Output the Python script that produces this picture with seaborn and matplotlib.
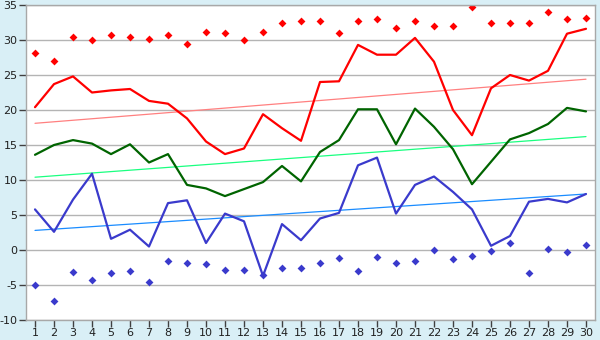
import matplotlib
matplotlib.use('Agg')
import numpy as np
import pandas as pd
import seaborn as sns
import matplotlib.pyplot as plt

###############################################################################
# Data
###############################################################################
DAYS = list(range(1, 31))
RED = [20.4, 23.7, 24.8, 22.5, 22.8, 23.0, 21.3, 20.9, 18.8, 15.5,
       13.7, 14.5, 19.4, 17.4, 15.6, 24.0, 24.1, 29.3, 27.9, 27.9,
       30.3, 26.9, 20.0, 16.4, 23.1, 25.0, 24.2, 25.6, 30.9, 31.6]
GREEN = [13.6, 15.0, 15.7, 15.2, 13.7, 15.1, 12.5, 13.7, 9.3, 8.8,
         7.7, 8.7, 9.7, 12.0, 9.8, 14.0, 15.7, 20.1, 20.1, 15.1,
         20.2, 17.6, 14.4, 9.4, 12.6, 15.8, 16.7, 18.0, 20.3, 19.8]
BLUE = [5.8, 2.6, 7.2, 10.9, 1.6, 2.9, 0.5, 6.7, 7.1, 1.0,
        5.2, 4.1, -3.7, 3.7, 1.4, 4.5, 5.3, 12.1, 13.2, 5.2,
        9.3, 10.5, 8.3, 5.8, 0.6, 2.0, 6.9, 7.3, 6.8, 8.0]
HIGH = [28.1, 27.0, 30.4, 30.0, 30.7, 30.5, 30.2, 30.7, 29.4, 31.1,
        31.0, 30.0, 31.1, 32.4, 32.7, 32.7, 31.0, 32.7, 33.0, 31.7,
        32.7, 32.0, 32.0, 34.7, 32.4, 32.5, 32.4, 34.0, 33.0, 33.1]
LOW = [-5.0, -7.3, -3.2, -4.3, -3.3, -3.0, -4.5, -1.5, -1.9, -2.0,
       -2.8, -2.8, -3.6, -2.6, -2.6, -1.8, -1.2, -3.0, -1.0, -1.9,
       -1.5, 0.0, -1.3, -0.9, -0.2, 1.0, -3.3, 0.1, -0.3, 0.7]
TREND_X = [1, 30]
TREND_RED = [18.1, 24.4]
TREND_GREEN = [10.4, 16.2]
TREND_BLUE = [2.8, 8.0]

df = pd.DataFrame({'day': DAYS, 'red': RED, 'green': GREEN, 'blue': BLUE,
                   'high': HIGH, 'low': LOW})
dfT = pd.DataFrame({'day': TREND_X, 'red': TREND_RED, 'green': TREND_GREEN,
                    'blue': TREND_BLUE})

###############################################################################
# Plot
###############################################################################
sns.set_style('white')
plt.rcParams['font.family'] = ['DejaVu Sans']
plt.rcParams['axes.unicode_minus'] = False
BG = '#d9eff6'
EDGE = '#a8a8a8'
fig = plt.figure(figsize=(6, 3.4), dpi=100, facecolor=BG)
ax = fig.add_axes([26 / 600, 20 / 340, 569 / 600, 315 / 340])
ax.set_facecolor('white')

ax.set_ylim(-10, 35)
ax.set_xlim(0.526, 30.474)
ax.set_yticks(range(-10, 36, 5))
ax.set_xticks(DAYS)
ax.yaxis.grid(True, color='#b4b4b4', linewidth=1.0)
ax.set_axisbelow(True)

# trend lines
sns.lineplot(data=dfT, x='day', y='red', color='#ff8080', linewidth=0.9, ax=ax)
sns.lineplot(data=dfT, x='day', y='green', color='#1aff80', linewidth=0.9, ax=ax)
sns.lineplot(data=dfT, x='day', y='blue', color='#1a8cff', linewidth=0.9, ax=ax)
# main series
sns.lineplot(data=df, x='day', y='red', color='#ff0000', linewidth=1.6, ax=ax)
sns.lineplot(data=df, x='day', y='green', color='#006400', linewidth=1.6, ax=ax)
sns.lineplot(data=df, x='day', y='blue', color='#3a3acc', linewidth=1.6, ax=ax)
# extremes
sns.scatterplot(data=df, x='day', y='high', color='#ff0000', marker='D', s=16,
                linewidth=0, ax=ax)
sns.scatterplot(data=df, x='day', y='low', color='#3a3acc', marker='D', s=16,
                linewidth=0, ax=ax)

for s in ax.spines.values():
    s.set_color(EDGE)
    s.set_linewidth(1.0)
ax.tick_params(axis='both', which='both', direction='out', length=5, width=1,
               color='#404040', labelsize=8, labelcolor='#202020', pad=1,
               left=True, bottom=True)
ax.set(xlabel=None, ylabel=None)

fig.savefig('out.png', dpi=100, facecolor=BG)
